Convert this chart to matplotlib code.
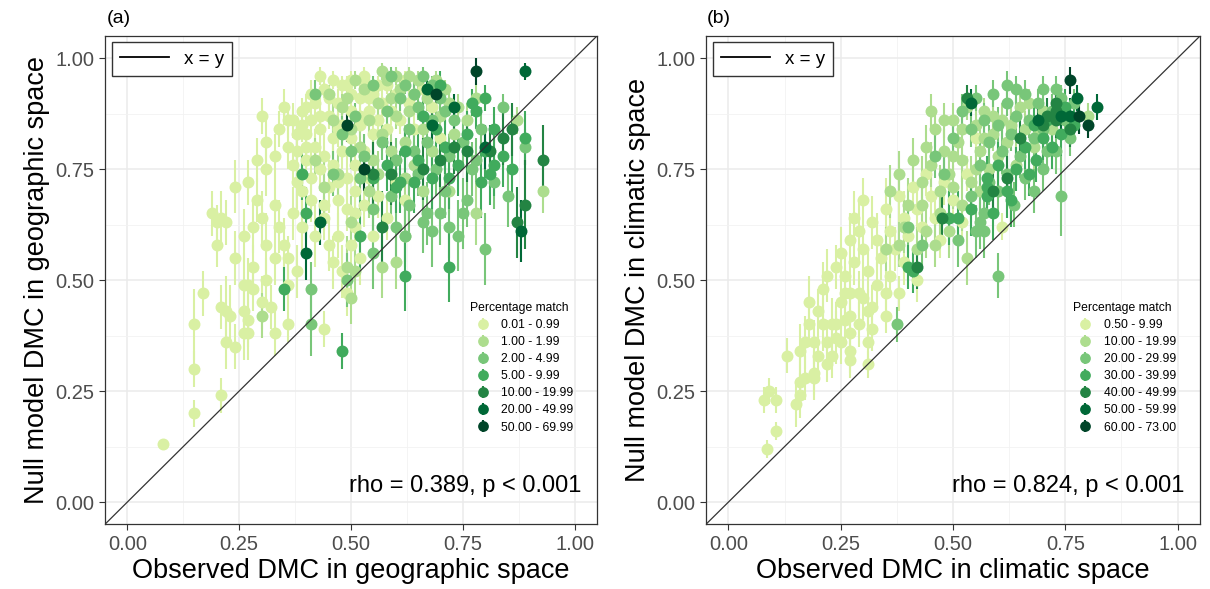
import numpy as np
import matplotlib.pyplot as plt
from matplotlib.lines import Line2D

plt.rcParams['font.family'] = ['Liberation Sans', 'DejaVu Sans']

colours = ['#d9f0a3', '#addd8e', '#78c679', '#41ab5d', '#238443', '#006837', '#004529']

geo_labels = ['0.01 - 0.99', '1.00 - 1.99', '2.00 - 4.99', '5.00 - 9.99',
              '10.00 - 19.99', '20.00 - 49.99', '50.00 - 69.99']
clim_labels = ['0.50 - 9.99', '10.00 - 19.99', '20.00 - 29.99', '30.00 - 39.99',
               '40.00 - 49.99', '50.00 - 59.99', '60.00 - 73.00']

# ---- (a) geographic space: observed DMC, null model DMC, error half-width per class
geo_x0 = [0.08, 0.15, 0.15, 0.15, 0.17, 0.21, 0.21, 0.22, 0.23, 0.22, 0.24, 0.26, 0.27, 0.28, 0.26,
          0.27, 0.26, 0.27, 0.30, 0.31, 0.32, 0.33, 0.36, 0.36, 0.44, 0.49, 0.19, 0.20, 0.21, 0.22,
          0.20, 0.24, 0.24, 0.28, 0.31, 0.33, 0.33, 0.29, 0.31, 0.33, 0.31, 0.30, 0.35,
          0.36, 0.37, 0.38, 0.38, 0.39, 0.40, 0.40, 0.41, 0.41, 0.42, 0.42, 0.43, 0.43, 0.44, 0.44,
          0.45, 0.45, 0.46, 0.46, 0.47, 0.47, 0.48, 0.48, 0.49, 0.49, 0.50, 0.50, 0.51, 0.51, 0.52,
          0.52, 0.53, 0.53, 0.54, 0.54, 0.55, 0.55, 0.56, 0.57, 0.58, 0.58, 0.59, 0.60, 0.61, 0.62,
          0.63, 0.64, 0.66, 0.68, 0.70, 0.37, 0.39, 0.41, 0.42, 0.44, 0.45, 0.46, 0.47, 0.48, 0.49,
          0.50, 0.51, 0.52, 0.53, 0.55, 0.56, 0.58, 0.60, 0.62, 0.34, 0.35, 0.36, 0.38, 0.28, 0.29,
          0.26, 0.27, 0.30, 0.41, 0.48, 0.50, 0.53, 0.36, 0.39, 0.38, 0.40, 0.43, 0.46,
          0.40, 0.43, 0.45, 0.47, 0.50, 0.52, 0.54, 0.56, 0.34, 0.37, 0.39, 0.44, 0.47, 0.51]
geo_y0 = [0.13, 0.20, 0.30, 0.40, 0.47, 0.24, 0.44, 0.43, 0.42, 0.36, 0.35, 0.49, 0.49, 0.48, 0.43,
          0.41, 0.38, 0.38, 0.45, 0.50, 0.44, 0.38, 0.49, 0.40, 0.39, 0.47, 0.65, 0.63, 0.64, 0.63,
          0.58, 0.55, 0.71, 0.53, 0.58, 0.55, 0.67, 0.77, 0.75, 0.78, 0.81, 0.87, 0.89,
          0.80, 0.76, 0.72, 0.79, 0.88, 0.83, 0.77, 0.73, 0.86, 0.80, 0.90, 0.75, 0.84, 0.78, 0.93,
          0.87, 0.71, 0.82, 0.76, 0.90, 0.68, 0.85, 0.79, 0.73, 0.94, 0.88, 0.82, 0.76, 0.70, 0.91,
          0.85, 0.79, 0.95, 0.88, 0.73, 0.83, 0.92, 0.86, 0.90, 0.84, 0.94, 0.88, 0.92, 0.86, 0.95,
          0.90, 0.84, 0.93, 0.89, 0.82, 0.65, 0.62, 0.68, 0.60, 0.64, 0.58, 0.54, 0.60, 0.52, 0.66,
          0.58, 0.62, 0.55, 0.67, 0.60, 0.69, 0.64, 0.72, 0.68, 0.62, 0.58, 0.55, 0.52, 0.62, 0.68,
          0.60, 0.72, 0.64, 0.92, 0.94, 0.95, 0.96, 0.86, 0.85, 0.83, 0.80, 0.96, 0.95,
          0.89, 0.87, 0.91, 0.84, 0.92, 0.87, 0.91, 0.94, 0.84, 0.86, 0.70, 0.67, 0.72, 0.65]
geo_e0 = [0.01, 0.03, 0.04, 0.08, 0.05, 0.04, 0.05, 0.08, 0.07, 0.06, 0.05, 0.07, 0.06, 0.05, 0.07,
          0.06, 0.06, 0.06, 0.06, 0.05, 0.05, 0.05, 0.05, 0.04, 0.04, 0.05, 0.05, 0.04, 0.06, 0.05,
          0.05, 0.06, 0.06, 0.05, 0.07, 0.06, 0.06, 0.05, 0.06, 0.05, 0.05, 0.04, 0.04,
          0.05, 0.04, 0.06, 0.04, 0.03, 0.05, 0.04, 0.06, 0.03, 0.04, 0.03, 0.05, 0.04, 0.05, 0.02,
          0.03, 0.06, 0.04, 0.05, 0.03, 0.06, 0.03, 0.04, 0.05, 0.02, 0.03, 0.04, 0.05, 0.06, 0.03,
          0.03, 0.04, 0.02, 0.03, 0.05, 0.04, 0.02, 0.03, 0.03, 0.04, 0.02, 0.03, 0.02, 0.03, 0.02,
          0.03, 0.04, 0.02, 0.03, 0.04, 0.06, 0.06, 0.05, 0.07, 0.05, 0.06, 0.06, 0.05, 0.06, 0.05,
          0.06, 0.05, 0.06, 0.05, 0.06, 0.05, 0.05, 0.04, 0.05, 0.06, 0.06, 0.05, 0.06, 0.06, 0.05,
          0.06, 0.05, 0.06, 0.03, 0.02, 0.02, 0.02, 0.04, 0.04, 0.04, 0.05, 0.02, 0.02,
          0.03, 0.04, 0.03, 0.04, 0.03, 0.03, 0.03, 0.02, 0.04, 0.04, 0.06, 0.06, 0.05, 0.06]

geo_x1 = [0.30, 0.50, 0.49, 0.51, 0.50, 0.57, 0.60, 0.62, 0.78, 0.72, 0.93, 0.87, 0.45, 0.48, 0.50,
          0.52, 0.53, 0.55, 0.56, 0.57, 0.58, 0.59, 0.60, 0.61, 0.62, 0.63, 0.64, 0.65, 0.66, 0.67,
          0.68, 0.70, 0.71, 0.73, 0.74, 0.76, 0.78, 0.42, 0.44, 0.46, 0.47, 0.54, 0.56, 0.62, 0.66,
          0.63, 0.60, 0.57, 0.51, 0.54, 0.59, 0.64, 0.69, 0.72, 0.49]
geo_y1 = [0.42, 0.46, 0.53, 0.52, 0.63, 0.53, 0.54, 0.60, 0.65, 0.70, 0.70, 0.86, 0.92, 0.89, 0.84,
          0.80, 0.93, 0.77, 0.90, 0.83, 0.95, 0.79, 0.87, 0.93, 0.81, 0.88, 0.76, 0.95, 0.84, 0.91,
          0.79, 0.87, 0.93, 0.83, 0.89, 0.86, 0.91, 0.77, 0.71, 0.86, 0.74, 0.70, 0.74, 0.73, 0.70,
          0.96, 0.96, 0.97, 0.95, 0.86, 0.91, 0.92, 0.95, 0.90, 0.91]
geo_e1 = [0.05, 0.06, 0.07, 0.06, 0.06, 0.07, 0.06, 0.06, 0.07, 0.05, 0.05, 0.03, 0.02, 0.03, 0.04,
          0.04, 0.02, 0.05, 0.03, 0.04, 0.02, 0.05, 0.03, 0.02, 0.04, 0.03, 0.05, 0.02, 0.04, 0.03,
          0.05, 0.03, 0.02, 0.04, 0.03, 0.04, 0.03, 0.05, 0.06, 0.04, 0.05, 0.06, 0.05, 0.05, 0.06,
          0.02, 0.02, 0.02, 0.02, 0.03, 0.03, 0.03, 0.02, 0.03, 0.03]

geo_x2 = [0.41, 0.41, 0.49, 0.55, 0.62, 0.80, 0.67, 0.70, 0.75, 0.68, 0.66, 0.60, 0.72, 0.65, 0.78,
          0.89, 0.84, 0.42, 0.48, 0.51, 0.53, 0.55, 0.57, 0.58, 0.60, 0.61, 0.63, 0.64, 0.65, 0.66,
          0.67, 0.68, 0.69, 0.70, 0.72, 0.73, 0.75, 0.77, 0.79, 0.82, 0.85, 0.55, 0.59, 0.63, 0.71,
          0.74, 0.76, 0.50, 0.46, 0.52, 0.59, 0.62, 0.64, 0.68, 0.71]
geo_y2 = [0.48, 0.40, 0.50, 0.56, 0.60, 0.57, 0.65, 0.65, 0.65, 0.61, 0.63, 0.62, 0.62, 0.74, 0.77,
          0.80, 0.89, 0.92, 0.83, 0.87, 0.78, 0.94, 0.81, 0.88, 0.77, 0.91, 0.84, 0.79, 0.89, 0.96,
          0.81, 0.86, 0.75, 0.91, 0.78, 0.86, 0.81, 0.75, 0.84, 0.72, 0.69, 0.66, 0.69, 0.67, 0.70,
          0.60, 0.68, 0.79, 0.74, 0.73, 0.96, 0.94, 0.92, 0.94, 0.88]
geo_e2 = [0.06, 0.07, 0.06, 0.08, 0.07, 0.08, 0.07, 0.07, 0.08, 0.08, 0.07, 0.08, 0.07, 0.05, 0.05,
          0.04, 0.03, 0.03, 0.04, 0.03, 0.05, 0.02, 0.04, 0.03, 0.05, 0.03, 0.04, 0.05, 0.03, 0.02,
          0.05, 0.04, 0.06, 0.03, 0.05, 0.04, 0.05, 0.06, 0.05, 0.06, 0.07, 0.06, 0.06, 0.07, 0.06,
          0.08, 0.06, 0.04, 0.05, 0.05, 0.02, 0.02, 0.03, 0.02, 0.03]

geo_x3 = [0.35, 0.40, 0.39, 0.48, 0.52, 0.61, 0.60, 0.64, 0.72, 0.79, 0.81, 0.82, 0.82, 0.89, 0.80,
          0.77, 0.72, 0.62, 0.58, 0.62, 0.65, 0.68, 0.69, 0.71, 0.74, 0.76, 0.78, 0.80, 0.84, 0.86,
          0.66, 0.70, 0.55]
geo_y3 = [0.48, 0.65, 0.74, 0.34, 0.60, 0.72, 0.71, 0.72, 0.73, 0.72, 0.74, 0.76, 0.84, 0.82, 0.91,
          0.90, 0.53, 0.51, 0.76, 0.79, 0.77, 0.73, 0.84, 0.80, 0.76, 0.83, 0.88, 0.79, 0.78, 0.75,
          0.87, 0.94, 0.73]
geo_e3 = [0.05, 0.06, 0.06, 0.04, 0.08, 0.07, 0.06, 0.07, 0.07, 0.08, 0.07, 0.07, 0.05, 0.06, 0.03,
          0.03, 0.08, 0.08, 0.06, 0.05, 0.06, 0.07, 0.05, 0.06, 0.07, 0.05, 0.04, 0.06, 0.07, 0.07,
          0.04, 0.03, 0.06]

geo_x4 = [0.55, 0.59, 0.57, 0.81, 0.86, 0.93, 0.89, 0.87, 0.76, 0.73, 0.66, 0.70, 0.84]
geo_y4 = [0.74, 0.74, 0.62, 0.79, 0.84, 0.77, 0.67, 0.63, 0.79, 0.80, 0.75, 0.77, 0.82]
geo_e4 = [0.07, 0.07, 0.08, 0.06, 0.06, 0.08, 0.10, 0.08, 0.07, 0.06, 0.07, 0.06, 0.06]

geo_x5 = [0.89, 0.68, 0.73, 0.88, 0.43, 0.40, 0.67, 0.80]
geo_y5 = [0.97, 0.85, 0.89, 0.61, 0.63, 0.56, 0.93, 0.80]
geo_e5 = [0.02, 0.04, 0.03, 0.07, 0.05, 0.06, 0.03, 0.05]

geo_x6 = [0.78, 0.69, 0.49, 0.53]
geo_y6 = [0.97, 0.92, 0.85, 0.75]
geo_e6 = [0.03, 0.03, 0.04, 0.05]

# ---- (b) climatic space
clim_x0 = [0.085, 0.105, 0.08, 0.105, 0.09, 0.15, 0.16, 0.16, 0.17, 0.19, 0.19, 0.13, 0.16, 0.17, 0.19,
           0.20, 0.22, 0.23, 0.22, 0.24, 0.25, 0.21, 0.23, 0.24, 0.18, 0.20, 0.21, 0.26, 0.27, 0.27,
           0.27, 0.27, 0.26, 0.27, 0.29, 0.30, 0.31, 0.32, 0.31, 0.31, 0.32, 0.35, 0.35, 0.38, 0.42,
           0.22, 0.24, 0.25, 0.26, 0.27, 0.28, 0.29, 0.30, 0.31, 0.32, 0.33, 0.34, 0.35, 0.36, 0.37,
           0.38, 0.39, 0.40, 0.41, 0.42, 0.43, 0.44, 0.45, 0.46, 0.47, 0.48, 0.50, 0.52, 0.53, 0.36,
           0.39, 0.25, 0.33, 0.29, 0.18, 0.61, 0.55, 0.30, 0.28]
clim_y0 = [0.12, 0.16, 0.23, 0.23, 0.25, 0.22, 0.24, 0.27, 0.28, 0.28, 0.29, 0.33, 0.34, 0.36, 0.36,
           0.33, 0.31, 0.33, 0.36, 0.37, 0.36, 0.40, 0.40, 0.40, 0.45, 0.43, 0.48, 0.41, 0.34, 0.32,
           0.38, 0.42, 0.47, 0.47, 0.47, 0.46, 0.36, 0.39, 0.31, 0.43, 0.44, 0.42, 0.47, 0.47, 0.50,
           0.51, 0.53, 0.56, 0.51, 0.59, 0.54, 0.61, 0.57, 0.52, 0.63, 0.59, 0.55, 0.66, 0.61, 0.57,
           0.69, 0.64, 0.60, 0.71, 0.66, 0.62, 0.74, 0.69, 0.64, 0.59, 0.72, 0.68, 0.63, 0.74, 0.51,
           0.54, 0.45, 0.49, 0.40, 0.40, 0.62, 0.82, 0.68, 0.64]
clim_e0 = [0.02, 0.02, 0.03, 0.03, 0.03, 0.05, 0.05, 0.06, 0.05, 0.05, 0.05, 0.04, 0.06, 0.06, 0.05,
           0.05, 0.04, 0.05, 0.05, 0.06, 0.05, 0.06, 0.06, 0.05, 0.06, 0.05, 0.06, 0.05, 0.05, 0.04,
           0.05, 0.06, 0.06, 0.06, 0.05, 0.05, 0.05, 0.05, 0.03, 0.05, 0.05, 0.04, 0.05, 0.04, 0.05,
           0.06, 0.05, 0.06, 0.05, 0.06, 0.05, 0.07, 0.06, 0.05, 0.06, 0.06, 0.05, 0.07, 0.06, 0.05,
           0.06, 0.06, 0.05, 0.06, 0.05, 0.05, 0.05, 0.05, 0.05, 0.04, 0.05, 0.04, 0.04, 0.04, 0.05,
           0.05, 0.06, 0.05, 0.05, 0.05, 0.03, 0.04, 0.05, 0.06]

clim_x1 = [0.35, 0.38, 0.42, 0.46, 0.53, 0.80, 0.36, 0.38, 0.40, 0.41, 0.43, 0.44, 0.45, 0.46, 0.47,
           0.48, 0.49, 0.50, 0.51, 0.52, 0.53, 0.54, 0.55, 0.56, 0.57, 0.58, 0.59, 0.60, 0.61, 0.62,
           0.64, 0.66, 0.68, 0.70, 0.72, 0.43, 0.47, 0.50, 0.52, 0.56, 0.39, 0.44, 0.49,
           0.45, 0.48, 0.50, 0.52, 0.55, 0.57, 0.59, 0.63, 0.65, 0.67, 0.69]
clim_y1 = [0.57, 0.58, 0.57, 0.58, 0.55, 0.87, 0.70, 0.74, 0.67, 0.77, 0.72, 0.80, 0.76, 0.84, 0.70,
           0.79, 0.74, 0.86, 0.81, 0.77, 0.89, 0.72, 0.85, 0.79, 0.88, 0.75, 0.83, 0.78, 0.86, 0.81,
           0.76, 0.84, 0.80, 0.88, 0.84, 0.67, 0.65, 0.71, 0.67, 0.70, 0.62, 0.61, 0.61,
           0.88, 0.86, 0.78, 0.84, 0.75, 0.82, 0.87, 0.85, 0.89, 0.90, 0.83]
clim_e1 = [0.05, 0.05, 0.05, 0.05, 0.06, 0.03, 0.06, 0.05, 0.06, 0.05, 0.06, 0.05, 0.05, 0.04, 0.06,
           0.05, 0.05, 0.04, 0.04, 0.05, 0.03, 0.06, 0.04, 0.05, 0.03, 0.05, 0.04, 0.05, 0.04, 0.04,
           0.05, 0.04, 0.05, 0.03, 0.04, 0.06, 0.06, 0.05, 0.06, 0.05, 0.06, 0.06, 0.06,
           0.04, 0.04, 0.05, 0.04, 0.05, 0.04, 0.04, 0.04, 0.03, 0.03, 0.04]

clim_x2 = [0.375, 0.74, 0.73, 0.635, 0.57, 0.56, 0.57, 0.55, 0.51, 0.40, 0.43, 0.60, 0.50, 0.52, 0.54,
           0.55, 0.56, 0.57, 0.58, 0.59, 0.60, 0.61, 0.62, 0.63, 0.64, 0.65, 0.66, 0.67, 0.68, 0.69,
           0.70, 0.71, 0.72, 0.73, 0.75, 0.76, 0.58, 0.62, 0.66, 0.70, 0.46, 0.48, 0.54, 0.60, 0.68,
           0.62, 0.64, 0.70, 0.74, 0.77]
clim_y2 = [0.40, 0.69, 0.79, 0.67, 0.65, 0.63, 0.61, 0.61, 0.59, 0.62, 0.58, 0.51, 0.82, 0.88, 0.84,
           0.91, 0.76, 0.86, 0.81, 0.92, 0.85, 0.79, 0.90, 0.83, 0.87, 0.78, 0.92, 0.86, 0.82, 0.90,
           0.84, 0.79, 0.88, 0.93, 0.86, 0.82, 0.72, 0.74, 0.73, 0.75, 0.78, 0.74, 0.69, 0.70, 0.70,
           0.94, 0.93, 0.93, 0.91, 0.90]
clim_e2 = [0.04, 0.09, 0.05, 0.05, 0.06, 0.06, 0.06, 0.06, 0.06, 0.06, 0.05, 0.05, 0.04, 0.04, 0.04,
           0.03, 0.05, 0.04, 0.04, 0.03, 0.04, 0.05, 0.03, 0.04, 0.04, 0.05, 0.03, 0.04, 0.05, 0.03,
           0.04, 0.05, 0.04, 0.03, 0.04, 0.04, 0.05, 0.05, 0.05, 0.05, 0.05, 0.05, 0.06, 0.05, 0.05,
           0.03, 0.03, 0.03, 0.03, 0.03]

clim_x3 = [0.685, 0.72, 0.63, 0.59, 0.575, 0.575, 0.575, 0.49, 0.51, 0.40, 0.41, 0.62, 0.64, 0.66,
           0.68, 0.70, 0.71, 0.74, 0.75, 0.77, 0.60, 0.67, 0.54]
clim_y3 = [0.77, 0.80, 0.68, 0.65, 0.73, 0.71, 0.69, 0.64, 0.64, 0.53, 0.52, 0.70, 0.75, 0.80, 0.85,
           0.82, 0.86, 0.83, 0.89, 0.85, 0.76, 0.74, 0.66]
clim_e3 = [0.05, 0.05, 0.06, 0.06, 0.05, 0.05, 0.05, 0.06, 0.06, 0.05, 0.05, 0.06, 0.05, 0.05, 0.04,
           0.05, 0.04, 0.05, 0.04, 0.04, 0.05, 0.05, 0.06]

clim_x4 = [0.73, 0.73, 0.73, 0.475, 0.70, 0.71, 0.62, 0.59, 0.65, 0.53, 0.76, 0.42]
clim_y4 = [0.90, 0.88, 0.86, 0.64, 0.85, 0.87, 0.73, 0.70, 0.82, 0.91, 0.84, 0.53]
clim_e4 = [0.04, 0.04, 0.04, 0.05, 0.04, 0.04, 0.05, 0.05, 0.05, 0.03, 0.04, 0.05]

clim_x5 = [0.775, 0.82, 0.76, 0.54, 0.74, 0.69]
clim_y5 = [0.91, 0.89, 0.87, 0.90, 0.87, 0.86]
clim_e5 = [0.03, 0.03, 0.04, 0.03, 0.03, 0.04]

clim_x6 = [0.76, 0.78, 0.80]
clim_y6 = [0.95, 0.87, 0.85]
clim_e6 = [0.03, 0.04, 0.03]

geo = [(geo_x0, geo_y0, geo_e0), (geo_x1, geo_y1, geo_e1), (geo_x2, geo_y2, geo_e2),
       (geo_x3, geo_y3, geo_e3), (geo_x4, geo_y4, geo_e4), (geo_x5, geo_y5, geo_e5),
       (geo_x6, geo_y6, geo_e6)]
clim = [(clim_x0, clim_y0, clim_e0), (clim_x1, clim_y1, clim_e1), (clim_x2, clim_y2, clim_e2),
        (clim_x3, clim_y3, clim_e3), (clim_x4, clim_y4, clim_e4), (clim_x5, clim_y5, clim_e5),
        (clim_x6, clim_y6, clim_e6)]

ticks = [0.0, 0.25, 0.5, 0.75, 1.0]
tick_labels = ['0.00', '0.25', '0.50', '0.75', '1.00']


def draw_panel(ax, groups, labels, xlab, ylab, rho_text):
    ax.set_xlim(-0.05, 1.05)
    ax.set_ylim(-0.05, 1.05)
    ax.set_xticks(ticks)
    ax.set_yticks(ticks)
    ax.set_xticklabels(tick_labels)
    ax.set_yticklabels(tick_labels)
    ax.set_xticks([0.125, 0.375, 0.625, 0.875], minor=True)
    ax.set_yticks([0.125, 0.375, 0.625, 0.875], minor=True)
    ax.grid(which='major', color='#ebebeb', lw=1.1)
    ax.grid(which='minor', color='#f2f2f2', lw=0.6)
    ax.set_axisbelow(True)
    ax.tick_params(which='minor', length=0)
    ax.tick_params(which='major', length=4, width=0.8, color='#333333',
                   labelcolor='#4d4d4d', labelsize=14.5)
    for s in ax.spines.values():
        s.set_color('#333333')
        s.set_linewidth(0.9)

    handles = []
    for (x, y, e), col, lab in zip(groups, colours, labels):
        h = ax.errorbar(x, y, yerr=e, fmt='o', color=col, ms=8.6, mew=0,
                        elinewidth=1.5, capsize=0, label=lab, zorder=3)
        handles.append(h)

    ax.axline((0, 0), slope=1, color='#333333', lw=0.9, zorder=4)

    line_leg = ax.legend([Line2D([], [], color='black', lw=1.3)], ['x = y'],
                         loc='upper left', fontsize=13.5, handlelength=2.6,
                         borderaxespad=0.35, fancybox=False, edgecolor='#333333',
                         framealpha=1, borderpad=0.45)
    line_leg.get_frame().set_linewidth(1.0)
    ax.add_artist(line_leg)

    ax.legend(handles, labels, title='Percentage match', loc='upper left',
              bbox_to_anchor=(0.742, 0.455), frameon=False, fontsize=8.7,
              title_fontsize=8.7, alignment='left', borderpad=0, borderaxespad=0,
              handlelength=2.1, handletextpad=0.5, labelspacing=0.42, markerscale=0.9)

    ax.text(0.968, 0.055, rho_text, transform=ax.transAxes, ha='right', va='bottom',
            fontsize=17)
    ax.set_xlabel(xlab, fontsize=19.5, labelpad=3)
    ax.set_ylabel(ylab, fontsize=19.5, labelpad=4)


fig = plt.figure(figsize=(12.1, 5.89), dpi=100)
ax1 = fig.add_axes([0.0868, 0.110, 0.4066, 0.829])
ax2 = fig.add_axes([0.5835, 0.110, 0.4083, 0.829])

draw_panel(ax1, geo, geo_labels, 'Observed DMC in geographic space',
           'Null model DMC in geographic space', 'rho = 0.389, p < 0.001')
draw_panel(ax2, clim, clim_labels, 'Observed DMC in climatic space',
           'Null model DMC in climatic space', 'rho = 0.824, p < 0.001')

fig.text(0.088, 0.968, '(a)', fontsize=14, va='center', ha='left')
fig.text(0.584, 0.968, '(b)', fontsize=14, va='center', ha='left')

fig.savefig('out.png', dpi=100)
